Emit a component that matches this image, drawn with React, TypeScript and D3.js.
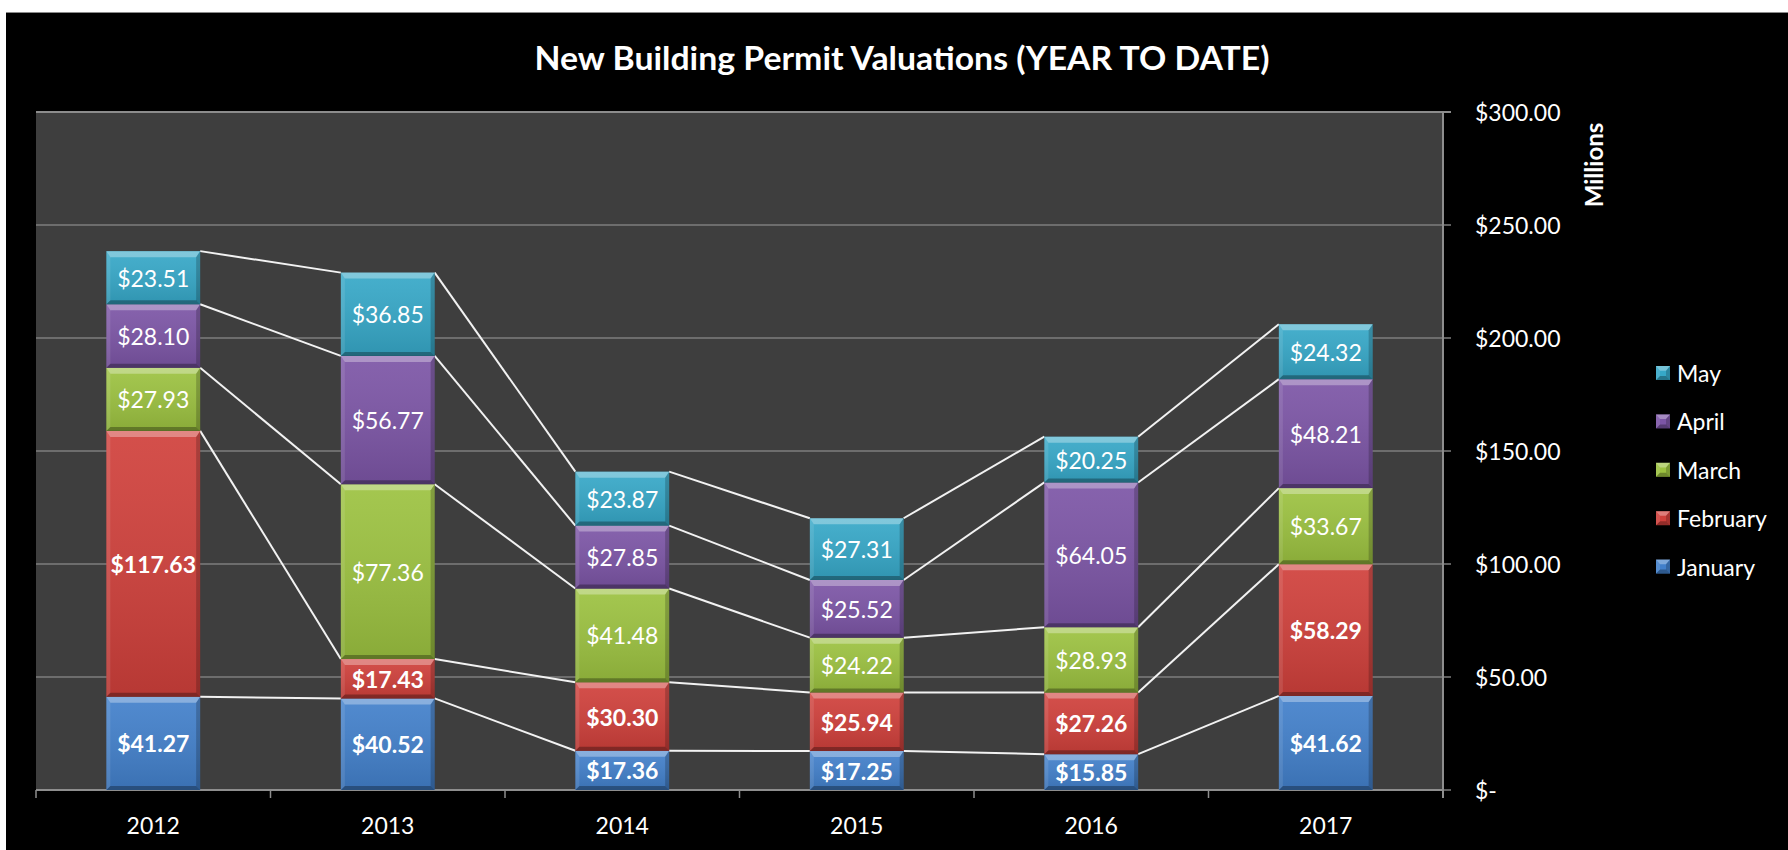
import React from "react";
import * as d3 from "d3";

const years = ["2012", "2013", "2014", "2015", "2016", "2017"];
const january = [41.27, 40.52, 17.36, 17.25, 15.85, 41.62];
const february = [117.63, 17.43, 30.3, 25.94, 27.26, 58.29];
const march = [27.93, 77.36, 41.48, 24.22, 28.93, 33.67];
const april = [28.1, 56.77, 27.85, 25.52, 64.05, 48.21];
const may = [23.51, 36.85, 23.87, 27.31, 20.25, 24.32];
const seriesNames = ["January", "February", "March", "April", "May"];
const seriesColors = ["#4280cb", "#d0403b", "#9cc240", "#7c55a6", "#36a8c8"];
const boldLabels = [true, true, false, false, false];
const yTicks = [0, 50, 100, 150, 200, 250, 300];

const W = 1788;
const H = 850;
const FONT = "Lato, 'Open Sans', sans-serif";

export default function App() {
  const left = 36, right = 1443, top = 112, bottom = 790;
  const x = d3.scaleBand<string>().domain(years).range([left, right]).paddingInner(0.6).paddingOuter(0.3);
  const y = d3.scaleLinear().domain([0, 300]).range([bottom, top]);
  const bw = x.bandwidth();
  const step = x.step();

  const table = years.map((yr, i) => ({
    year: yr,
    January: january[i],
    February: february[i],
    March: march[i],
    April: april[i],
    May: may[i],
  }));
  const stacked = d3.stack<any>().keys(seriesNames)(table);
  const fmt = d3.format(".2f");

  const bevel = (x0: number, x1: number, y0: number, y1: number) => {
    const bt = Math.min(6, (y1 - y0) / 3);
    const bs = Math.min(4, (y1 - y0) / 3);
    return (
      <g>
        <polygon points={`${x0},${y0} ${x1},${y0} ${x1 - bs},${y0 + bt} ${x0 + bs},${y0 + bt}`} fill="#fff" opacity={0.32} />
        <polygon points={`${x0},${y1} ${x1},${y1} ${x1 - bs},${y1 - bs} ${x0 + bs},${y1 - bs}`} fill="#000" opacity={0.3} />
        <polygon points={`${x0},${y0} ${x0 + bs},${y0 + bt} ${x0 + bs},${y1 - bs} ${x0},${y1}`} fill="#fff" opacity={0.1} />
        <polygon points={`${x1},${y0} ${x1 - bs},${y0 + bt} ${x1 - bs},${y1 - bs} ${x1},${y1}`} fill="#000" opacity={0.2} />
      </g>
    );
  };

  return (
    <div style={{ position: "absolute", left: 0, top: 0 }}>
      <svg width={W} height={H} style={{ display: "block", background: "#fff" }}>
        <defs>
          <linearGradient id="face" x1="0" y1="0" x2="0" y2="1">
            <stop offset="0" stopColor="#fff" stopOpacity={0.08} />
            <stop offset="1" stopColor="#000" stopOpacity={0.12} />
          </linearGradient>
        </defs>
        <rect x={6} y={12} width={W - 6} height={H - 12} fill="#000" />
        <line x1={6} x2={W} y1={12.5} y2={12.5} stroke="#8a8a8a" strokeWidth={1} />

        <text x={902} y={57} textAnchor="middle" dominantBaseline="central" fill="#fff" fontFamily={FONT} fontWeight="bold" fontSize={32} textLength={735} lengthAdjust="spacingAndGlyphs">
          New Building Permit Valuations (YEAR TO DATE)
        </text>

        <rect x={left} y={top} width={right - left} height={bottom - top} fill="#3e3e3e" />
        {yTicks.map((t) => (
          <g key={t}>
            <line x1={left} x2={right + 8} y1={y(t)} y2={y(t)} stroke={t === 300 ? "#8c8c8c" : "#7e7e7e"} strokeWidth={t === 300 ? 2 : 1.5} />
            <text x={1475} y={y(t)} dominantBaseline="central" fill="#fff" fontFamily={FONT} fontSize={23}>
              {t === 0 ? "$-" : "$" + fmt(t)}
            </text>
          </g>
        ))}
        <line x1={right} x2={right} y1={top} y2={bottom + 8} stroke="#8e8e8e" strokeWidth={2} />
        <line x1={left} x2={right} y1={bottom} y2={bottom} stroke="#8e8e8e" strokeWidth={2} />
        {years.map((yr, i) => (
          <line key={"t" + yr} x1={left + i * step} x2={left + i * step} y1={bottom} y2={bottom + 8} stroke="#8e8e8e" strokeWidth={1.5} />
        ))}
        {years.map((yr) => (
          <text key={"l" + yr} x={(x(yr) as number) + bw / 2} y={825} textAnchor="middle" dominantBaseline="central" fill="#fff" fontFamily={FONT} fontSize={23}>
            {yr}
          </text>
        ))}

        <text transform={`translate(1593,165) rotate(-90)`} textAnchor="middle" dominantBaseline="central" fill="#fff" fontFamily={FONT} fontWeight="bold" fontSize={24}>
          Millions
        </text>

        {/* series lines */}
        {stacked.map((s) =>
          years.slice(0, -1).map((yr, i) => (
            <line
              key={s.key + yr}
              x1={(x(yr) as number) + bw}
              y1={y(s[i][1])}
              x2={x(years[i + 1]) as number}
              y2={y(s[i + 1][1])}
              stroke="#f2f2f2"
              strokeWidth={2}
            />
          ))
        )}

        {/* bars */}
        {stacked.map((s, si) =>
          s.map((d, i) => {
            const x0 = x(years[i]) as number;
            const x1 = x0 + bw;
            const y0 = y(d[1]);
            const y1 = y(d[0]);
            return (
              <g key={s.key + i}>
                <rect x={x0} y={y0} width={bw} height={y1 - y0} fill={seriesColors[si]} />
                <rect x={x0} y={y0} width={bw} height={y1 - y0} fill="url(#face)" />
                {bevel(x0, x1, y0, y1)}
              </g>
            );
          })
        )}
        {stacked.map((s, si) =>
          s.map((d, i) => (
            <text
              key={"v" + s.key + i}
              x={(x(years[i]) as number) + bw / 2}
              y={(y(d[0]) + y(d[1])) / 2}
              textAnchor="middle"
              dominantBaseline="central"
              fill="#fff"
              fontFamily={FONT}
              fontWeight={boldLabels[si] ? "bold" : "normal"}
              fontSize={23}
            >
              {"$" + fmt(d[1] - d[0])}
            </text>
          ))
        )}

        {/* legend */}
        {seriesNames
          .slice()
          .reverse()
          .map((name, k) => {
            const si = seriesNames.length - 1 - k;
            const cy = 373 + k * 48.4;
            return (
              <g key={name}>
                <rect x={1656} y={cy - 7} width={14} height={14} fill={seriesColors[si]} />
                {bevel(1656, 1670, cy - 7, cy + 7)}
                <text x={1677} y={cy} dominantBaseline="central" fill="#fff" fontFamily={FONT} fontSize={23}>
                  {name}
                </text>
              </g>
            );
          })}
      </svg>
    </div>
  );
}
